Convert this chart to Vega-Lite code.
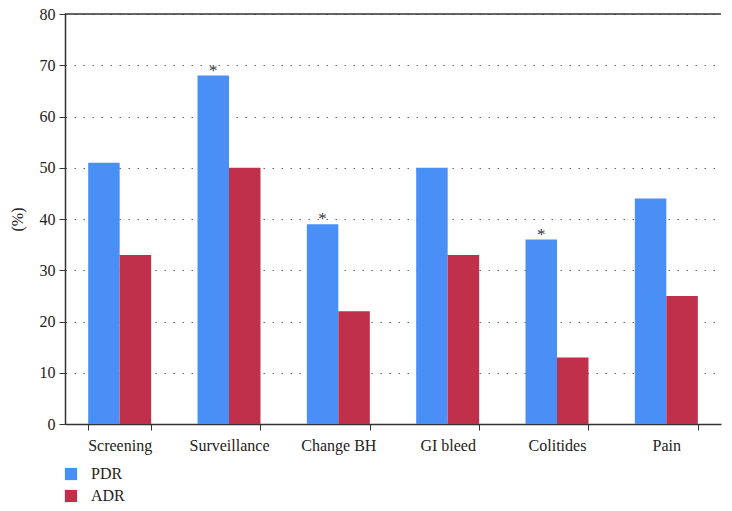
{
  "$schema": "https://vega.github.io/schema/vega-lite/v6.json",
  "width": 656,
  "height": 410,
  "autosize": {"type": "none"},
  "padding": {"left": 65, "top": 14, "right": 11, "bottom": 87},
  "config": {
    "font": "Liberation Serif, serif",
    "view": {"stroke": null},
    "axis": {"labelFont": "Liberation Serif, serif", "titleFont": "Liberation Serif, serif", "labelColor": "#222", "titleColor": "#222", "domainColor": "#333", "tickColor": "#333", "labelFontSize": 16, "titleFontSize": 16, "titleFontWeight": "normal"},
    "legend": {"labelFont": "Liberation Serif, serif", "labelFontSize": 16, "labelColor": "#222"},
    "text": {"font": "Liberation Serif, serif"}
  },
  "data": {
    "values": [
      {"category": "Screening", "series": "PDR", "value": 51, "mark": ""},
      {"category": "Screening", "series": "ADR", "value": 33, "mark": ""},
      {"category": "Surveillance", "series": "PDR", "value": 68, "mark": "*"},
      {"category": "Surveillance", "series": "ADR", "value": 50, "mark": ""},
      {"category": "Change BH", "series": "PDR", "value": 39, "mark": "*"},
      {"category": "Change BH", "series": "ADR", "value": 22, "mark": ""},
      {"category": "GI bleed", "series": "PDR", "value": 50, "mark": ""},
      {"category": "GI bleed", "series": "ADR", "value": 33, "mark": ""},
      {"category": "Colitides", "series": "PDR", "value": 36, "mark": "*"},
      {"category": "Colitides", "series": "ADR", "value": 13, "mark": ""},
      {"category": "Pain", "series": "PDR", "value": 44, "mark": ""},
      {"category": "Pain", "series": "ADR", "value": 25, "mark": ""}
    ]
  },
  "layer": [
    {
      "mark": {"type": "bar"},
      "encoding": {
        "x": {
          "field": "category", "type": "nominal", "sort": null,
          "scale": {"paddingInner": 0.424, "paddingOuter": 0.212},
          "axis": {"title": null, "labelAngle": 0, "labelPadding": 7, "tickBand": "extent", "tickSize": 6, "domainWidth": 1.5, "grid": false}
        },
        "xOffset": {"field": "series", "type": "nominal", "sort": ["PDR", "ADR"], "scale": {"paddingInner": 0, "paddingOuter": 0}},
        "y": {
          "field": "value", "type": "quantitative",
          "scale": {"domain": [0, 80], "nice": false},
          "axis": {"title": "(%)", "titlePadding": 14, "labelPadding": 4, "values": [0,10,20,30,40,50,60,70,80], "tickSize": 6, "domainWidth": 1.5, "grid": true, "gridDash": [1.5, 7.5], "gridColor": "#666", "gridWidth": 1}
        },
        "color": {
          "field": "series", "type": "nominal",
          "scale": {"domain": ["PDR", "ADR"], "range": ["#4A8FF6", "#C1304B"]},
          "legend": {"title": null, "orient": "none", "legendX": -2, "legendY": 452, "symbolType": "square", "symbolSize": 150, "symbolStrokeWidth": 0, "rowPadding": 6, "labelOffset": 12}
        }
      }
    },
    {
      "mark": {"type": "text", "baseline": "bottom", "dy": 4, "fontSize": 17, "color": "#333"},
      "encoding": {
        "x": {"field": "category", "type": "nominal", "sort": null},
        "xOffset": {"field": "series", "type": "nominal", "sort": ["PDR", "ADR"]},
        "y": {"field": "value", "type": "quantitative"},
        "text": {"field": "mark"}
      }
    },
    {
      "data": {"values": [{"top": 80}]},
      "mark": {"type": "rule", "color": "#333", "strokeWidth": 1.5},
      "encoding": {"y": {"field": "top", "type": "quantitative"}}
    }
  ]
}
